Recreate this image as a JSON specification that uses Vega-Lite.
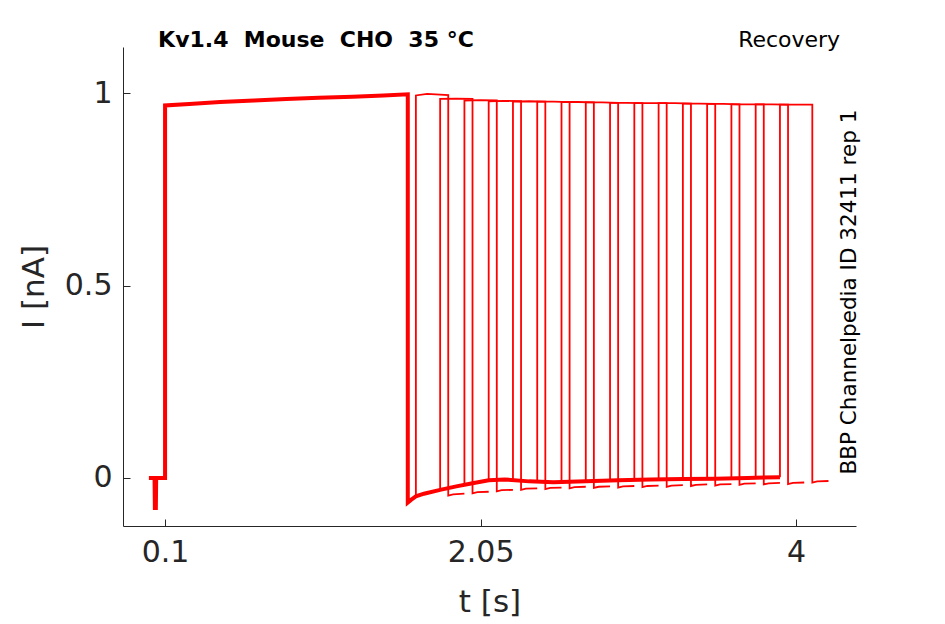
{
  "$schema": "https://vega.github.io/schema/vega-lite/v6.json",
  "width": 733,
  "height": 479,
  "autosize": {"type": "none"},
  "padding": {"left": 123, "top": 47, "right": 89, "bottom": 98},
  "background": "white",
  "datasets": {
    "traces": [
      {"trace": "main", "part": "main", "t": 0, "i": 0},
      {"trace": "main", "part": "main", "t": 0.035, "i": 0},
      {"trace": "main", "part": "main", "t": 0.037, "i": -0.078},
      {"trace": "main", "part": "main", "t": 0.043, "i": -0.078},
      {"trace": "main", "part": "main", "t": 0.045, "i": 0},
      {"trace": "main", "part": "main", "t": 0.1, "i": 0},
      {"trace": "main", "part": "main", "t": 0.1, "i": 0.968},
      {"trace": "main", "part": "main", "t": 0.25, "i": 0.972},
      {"trace": "main", "part": "main", "t": 0.44, "i": 0.977},
      {"trace": "main", "part": "main", "t": 0.65, "i": 0.981},
      {"trace": "main", "part": "main", "t": 0.85, "i": 0.985},
      {"trace": "main", "part": "main", "t": 1.05, "i": 0.988},
      {"trace": "main", "part": "main", "t": 1.26, "i": 0.991},
      {"trace": "main", "part": "main", "t": 1.45, "i": 0.994},
      {"trace": "main", "part": "main", "t": 1.6, "i": 0.997},
      {"trace": "main", "part": "main", "t": 1.6, "i": -0.064},
      {"trace": "main", "part": "main", "t": 1.62, "i": -0.057},
      {"trace": "main", "part": "main", "t": 1.65, "i": -0.048},
      {"trace": "main", "part": "main", "t": 1.7, "i": -0.041},
      {"trace": "main", "part": "main", "t": 1.8, "i": -0.031},
      {"trace": "main", "part": "main", "t": 1.9, "i": -0.022},
      {"trace": "main", "part": "main", "t": 2.0, "i": -0.014},
      {"trace": "main", "part": "main", "t": 2.1, "i": -0.006},
      {"trace": "main", "part": "main", "t": 2.2, "i": -0.004},
      {"trace": "main", "part": "main", "t": 2.35, "i": -0.009},
      {"trace": "main", "part": "main", "t": 2.5, "i": -0.011},
      {"trace": "main", "part": "main", "t": 2.7, "i": -0.009},
      {"trace": "main", "part": "main", "t": 2.9, "i": -0.006},
      {"trace": "main", "part": "main", "t": 3.1, "i": -0.004},
      {"trace": "main", "part": "main", "t": 3.3, "i": -0.003},
      {"trace": "main", "part": "main", "t": 3.5, "i": -0.002},
      {"trace": "main", "part": "main", "t": 3.7, "i": 0.0},
      {"trace": "main", "part": "main", "t": 3.9, "i": 0.002},

      {"trace": "k0", "part": "test", "t": 1.65, "i": -0.048},
      {"trace": "k0", "part": "test", "t": 1.65, "i": 0.994},
      {"trace": "k0", "part": "test", "t": 1.72, "i": 0.998},
      {"trace": "k0", "part": "test", "t": 1.85, "i": 0.995},
      {"trace": "k0", "part": "test", "t": 1.85, "i": -0.046},
      {"trace": "k0", "part": "test", "t": 1.88, "i": -0.043},
      {"trace": "k0", "part": "test", "t": 1.95, "i": -0.041},

      {"trace": "k1", "part": "test", "t": 1.8, "i": -0.031},
      {"trace": "k1", "part": "test", "t": 1.8, "i": 0.985},
      {"trace": "k1", "part": "test", "t": 1.9, "i": 0.986},
      {"trace": "k1", "part": "test", "t": 2.0, "i": 0.985},
      {"trace": "k1", "part": "test", "t": 2.0, "i": -0.040},
      {"trace": "k1", "part": "test", "t": 2.03, "i": -0.037},
      {"trace": "k1", "part": "test", "t": 2.1, "i": -0.036},

      {"trace": "k2", "part": "test", "t": 1.95, "i": -0.019},
      {"trace": "k2", "part": "test", "t": 1.95, "i": 0.981},
      {"trace": "k2", "part": "test", "t": 2.05, "i": 0.982},
      {"trace": "k2", "part": "test", "t": 2.15, "i": 0.981},
      {"trace": "k2", "part": "test", "t": 2.15, "i": -0.035},
      {"trace": "k2", "part": "test", "t": 2.18, "i": -0.032},
      {"trace": "k2", "part": "test", "t": 2.25, "i": -0.031},

      {"trace": "k3", "part": "test", "t": 2.1, "i": -0.006},
      {"trace": "k3", "part": "test", "t": 2.1, "i": 0.979},
      {"trace": "k3", "part": "test", "t": 2.2, "i": 0.98},
      {"trace": "k3", "part": "test", "t": 2.3, "i": 0.979},
      {"trace": "k3", "part": "test", "t": 2.3, "i": -0.031},
      {"trace": "k3", "part": "test", "t": 2.33, "i": -0.028},
      {"trace": "k3", "part": "test", "t": 2.4, "i": -0.027},

      {"trace": "k4", "part": "test", "t": 2.25, "i": -0.005},
      {"trace": "k4", "part": "test", "t": 2.25, "i": 0.978},
      {"trace": "k4", "part": "test", "t": 2.35, "i": 0.979},
      {"trace": "k4", "part": "test", "t": 2.45, "i": 0.978},
      {"trace": "k4", "part": "test", "t": 2.45, "i": -0.029},
      {"trace": "k4", "part": "test", "t": 2.48, "i": -0.026},
      {"trace": "k4", "part": "test", "t": 2.55, "i": -0.025},

      {"trace": "k5", "part": "test", "t": 2.4, "i": -0.009},
      {"trace": "k5", "part": "test", "t": 2.4, "i": 0.978},
      {"trace": "k5", "part": "test", "t": 2.5, "i": 0.978},
      {"trace": "k5", "part": "test", "t": 2.6, "i": 0.977},
      {"trace": "k5", "part": "test", "t": 2.6, "i": -0.027},
      {"trace": "k5", "part": "test", "t": 2.63, "i": -0.024},
      {"trace": "k5", "part": "test", "t": 2.7, "i": -0.023},

      {"trace": "k6", "part": "test", "t": 2.55, "i": -0.011},
      {"trace": "k6", "part": "test", "t": 2.55, "i": 0.977},
      {"trace": "k6", "part": "test", "t": 2.65, "i": 0.977},
      {"trace": "k6", "part": "test", "t": 2.75, "i": 0.976},
      {"trace": "k6", "part": "test", "t": 2.75, "i": -0.026},
      {"trace": "k6", "part": "test", "t": 2.78, "i": -0.023},
      {"trace": "k6", "part": "test", "t": 2.85, "i": -0.022},

      {"trace": "k7", "part": "test", "t": 2.7, "i": -0.009},
      {"trace": "k7", "part": "test", "t": 2.7, "i": 0.976},
      {"trace": "k7", "part": "test", "t": 2.8, "i": 0.976},
      {"trace": "k7", "part": "test", "t": 2.9, "i": 0.975},
      {"trace": "k7", "part": "test", "t": 2.9, "i": -0.025},
      {"trace": "k7", "part": "test", "t": 2.93, "i": -0.022},
      {"trace": "k7", "part": "test", "t": 3.0, "i": -0.021},

      {"trace": "k8", "part": "test", "t": 2.85, "i": -0.007},
      {"trace": "k8", "part": "test", "t": 2.85, "i": 0.975},
      {"trace": "k8", "part": "test", "t": 2.95, "i": 0.975},
      {"trace": "k8", "part": "test", "t": 3.05, "i": 0.974},
      {"trace": "k8", "part": "test", "t": 3.05, "i": -0.024},
      {"trace": "k8", "part": "test", "t": 3.08, "i": -0.021},
      {"trace": "k8", "part": "test", "t": 3.15, "i": -0.02},

      {"trace": "k9", "part": "test", "t": 3.0, "i": -0.005},
      {"trace": "k9", "part": "test", "t": 3.0, "i": 0.974},
      {"trace": "k9", "part": "test", "t": 3.1, "i": 0.974},
      {"trace": "k9", "part": "test", "t": 3.2, "i": 0.974},
      {"trace": "k9", "part": "test", "t": 3.2, "i": -0.023},
      {"trace": "k9", "part": "test", "t": 3.23, "i": -0.02},
      {"trace": "k9", "part": "test", "t": 3.3, "i": -0.019},

      {"trace": "k10", "part": "test", "t": 3.15, "i": -0.004},
      {"trace": "k10", "part": "test", "t": 3.15, "i": 0.974},
      {"trace": "k10", "part": "test", "t": 3.25, "i": 0.974},
      {"trace": "k10", "part": "test", "t": 3.35, "i": 0.973},
      {"trace": "k10", "part": "test", "t": 3.35, "i": -0.021},
      {"trace": "k10", "part": "test", "t": 3.38, "i": -0.018},
      {"trace": "k10", "part": "test", "t": 3.45, "i": -0.017},

      {"trace": "k11", "part": "test", "t": 3.3, "i": -0.003},
      {"trace": "k11", "part": "test", "t": 3.3, "i": 0.973},
      {"trace": "k11", "part": "test", "t": 3.4, "i": 0.973},
      {"trace": "k11", "part": "test", "t": 3.5, "i": 0.972},
      {"trace": "k11", "part": "test", "t": 3.5, "i": -0.02},
      {"trace": "k11", "part": "test", "t": 3.53, "i": -0.017},
      {"trace": "k11", "part": "test", "t": 3.6, "i": -0.016},

      {"trace": "k12", "part": "test", "t": 3.45, "i": -0.002},
      {"trace": "k12", "part": "test", "t": 3.45, "i": 0.972},
      {"trace": "k12", "part": "test", "t": 3.55, "i": 0.972},
      {"trace": "k12", "part": "test", "t": 3.65, "i": 0.971},
      {"trace": "k12", "part": "test", "t": 3.65, "i": -0.018},
      {"trace": "k12", "part": "test", "t": 3.68, "i": -0.015},
      {"trace": "k12", "part": "test", "t": 3.75, "i": -0.014},

      {"trace": "k13", "part": "test", "t": 3.6, "i": -0.001},
      {"trace": "k13", "part": "test", "t": 3.6, "i": 0.971},
      {"trace": "k13", "part": "test", "t": 3.7, "i": 0.971},
      {"trace": "k13", "part": "test", "t": 3.8, "i": 0.971},
      {"trace": "k13", "part": "test", "t": 3.8, "i": -0.017},
      {"trace": "k13", "part": "test", "t": 3.83, "i": -0.014},
      {"trace": "k13", "part": "test", "t": 3.9, "i": -0.013},

      {"trace": "k14", "part": "test", "t": 3.75, "i": 0.001},
      {"trace": "k14", "part": "test", "t": 3.75, "i": 0.971},
      {"trace": "k14", "part": "test", "t": 3.85, "i": 0.971},
      {"trace": "k14", "part": "test", "t": 3.95, "i": 0.97},
      {"trace": "k14", "part": "test", "t": 3.95, "i": -0.016},
      {"trace": "k14", "part": "test", "t": 3.98, "i": -0.013},
      {"trace": "k14", "part": "test", "t": 4.05, "i": -0.012},

      {"trace": "k15", "part": "test", "t": 3.9, "i": 0.002},
      {"trace": "k15", "part": "test", "t": 3.9, "i": 0.97},
      {"trace": "k15", "part": "test", "t": 4.0, "i": 0.97},
      {"trace": "k15", "part": "test", "t": 4.1, "i": 0.97},
      {"trace": "k15", "part": "test", "t": 4.1, "i": -0.012},
      {"trace": "k15", "part": "test", "t": 4.13, "i": -0.009},
      {"trace": "k15", "part": "test", "t": 4.2, "i": -0.008}
    ]
  },
  "layer": [
    {
      "data": {"name": "traces"},
      "mark": {"type": "line", "color": "#ff0000", "strokeJoin": "miter", "strokeCap": "butt"},
      "encoding": {
        "x": {
          "field": "t",
          "type": "quantitative",
          "scale": {"domain": [-0.16, 4.37], "nice": false, "zero": false},
          "axis": {
            "values": [0.1, 2.05, 4],
            "labelExpr": "toString(datum.value)",
            "title": "t [s]",
            "labelPadding": 18,
            "titlePadding": 20
          }
        },
        "y": {
          "field": "i",
          "type": "quantitative",
          "scale": {"domain": [-0.125, 1.12], "nice": false, "zero": false},
          "axis": {
            "values": [0, 0.5, 1],
            "labelExpr": "toString(datum.value)",
            "title": "I [nA]",
            "labelPadding": 18,
            "titlePadding": 14
          }
        },
        "detail": {"field": "trace", "type": "nominal"},
        "strokeWidth": {
          "field": "part",
          "type": "ordinal",
          "scale": {"domain": ["main", "test"], "range": [4, 1.8]},
          "legend": null
        },
        "order": {"value": null}
      }
    },
    {
      "data": {"values": [{}]},
      "mark": {"type": "text", "text": "Kv1.4\u00a0\u00a0Mouse\u00a0\u00a0CHO\u00a0\u00a035\u00a0°C", "align": "left", "baseline": "alphabetic", "font": "DejaVu Sans", "fontSize": 22, "fontWeight": "bold", "color": "#000000"},
      "encoding": {
        "x": {"datum": 0.057, "type": "quantitative"},
        "y": {"datum": 1.12, "type": "quantitative"}
      }
    },
    {
      "data": {"values": [{}]},
      "mark": {"type": "text", "text": "Recovery", "align": "right", "baseline": "alphabetic", "font": "DejaVu Sans", "fontSize": 22, "color": "#000000"},
      "encoding": {
        "x": {"datum": 4.272, "type": "quantitative"},
        "y": {"datum": 1.12, "type": "quantitative"}
      }
    },
    {
      "data": {"values": [{}]},
      "mark": {"type": "text", "text": "BBP Channelpedia ID 32411 rep 1", "align": "center", "baseline": "middle", "angle": 270, "font": "DejaVu Sans", "fontSize": 21.5, "color": "#000000"},
      "encoding": {
        "x": {"datum": 4.334, "type": "quantitative"},
        "y": {"datum": 0.483, "type": "quantitative"}
      }
    }
  ],
  "config": {
    "view": {"stroke": null},
    "font": "DejaVu Sans",
    "axis": {
      "grid": false,
      "domainColor": "#262626",
      "domainWidth": 1,
      "tickColor": "#262626",
      "tickWidth": 1,
      "tickSize": -7,
      "labelColor": "#262626",
      "labelFont": "DejaVu Sans",
      "labelFontSize": 30,
      "titleColor": "#262626",
      "titleFont": "DejaVu Sans",
      "titleFontSize": 31,
      "titleFontWeight": "normal"
    }
  }
}
